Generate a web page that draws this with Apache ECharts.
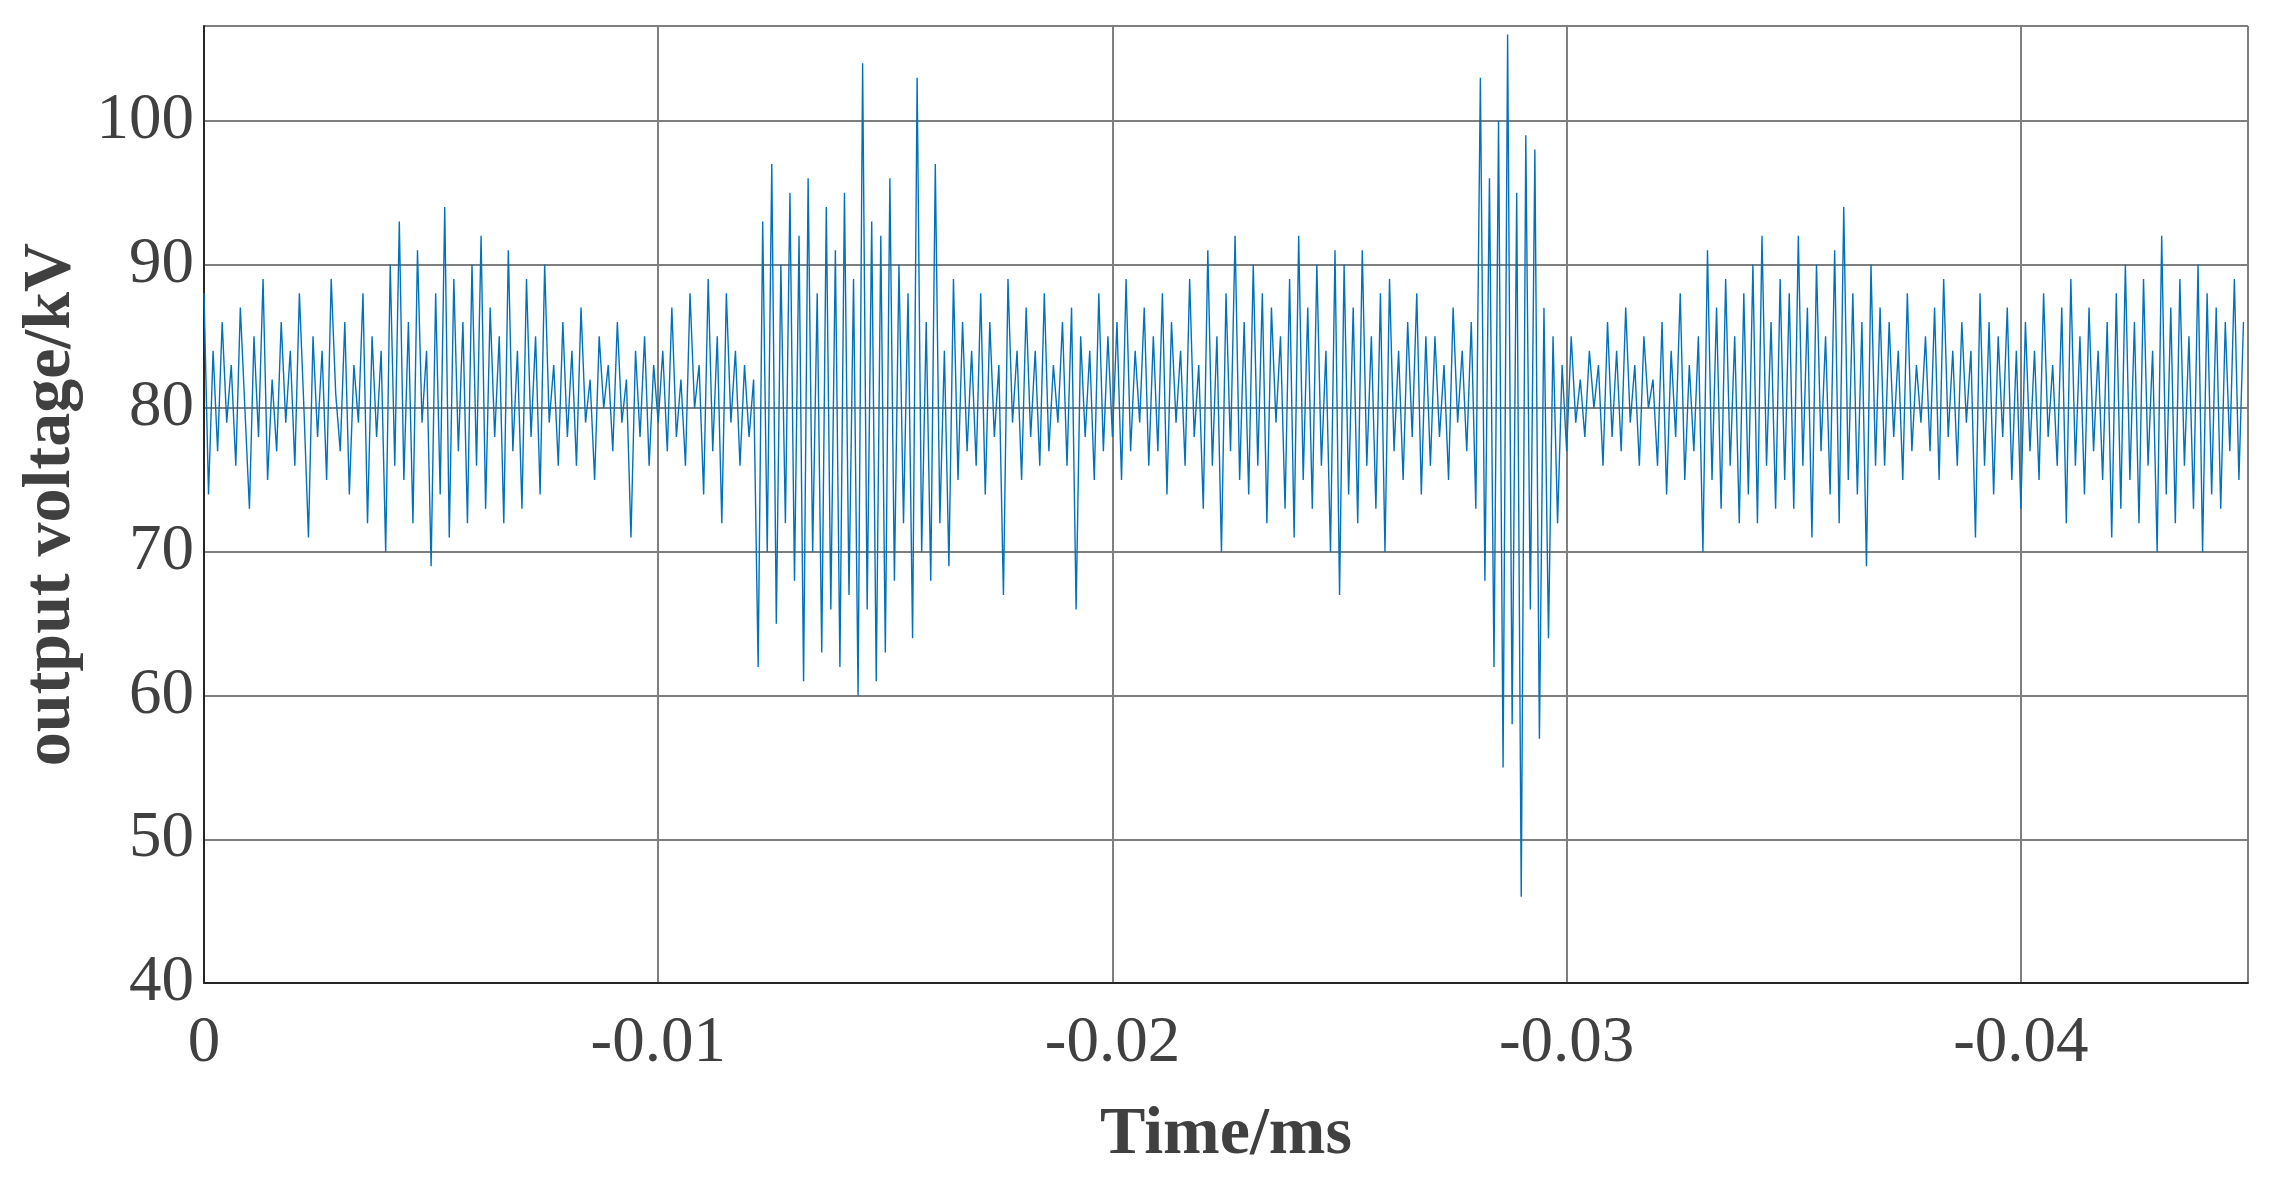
<!DOCTYPE html>
<html>
<head>
<meta charset="utf-8">
<script src="https://cdn.jsdelivr.net/npm/echarts@6/dist/echarts.min.js"></script>
<style>html,body{margin:0;padding:0;background:#fff}#chart{width:2272px;height:1198px}</style>
</head>
<body>
<div id="chart"></div>
<script>
// sampled time step (ms), shown on axis as negative values
var timeStep = 0.0001;
// output voltage samples in kV in 0.001 ms groups
var voltage = [
    88,74,84,77,86,79,83,76,87,80, 73,85,78,89,75,82,77,86,79,84,
    76,88,80,71,85,78,84,75,89,81, 77,86,74,83,79,88,72,85,78,84,
    70,90,76,93,75,86,72,91,79,84, 69,88,74,94,71,89,77,86,72,90,
    76,92,73,87,78,85,72,91,77,84, 73,89,78,85,74,90,79,83,76,86,
    78,84,76,87,79,82,75,85,80,83, 77,86,79,82,71,84,78,85,76,83,
    79,84,77,87,78,82,76,88,80,83, 74,89,77,85,72,88,79,84,76,83,
    78,82,62,93,70,97,65,90,72,95, 68,92,61,96,70,88,63,94,66,91,
    62,95,67,89,60,104,66,93,61,92, 63,96,68,90,72,88,64,103,70,86,
    68,97,72,84,69,89,75,86,77,84, 76,88,74,86,78,83,67,89,79,84,
    75,87,78,84,76,88,77,83,79,86, 76,87,66,85,78,84,75,88,77,85,
    78,86,75,89,77,84,79,87,76,85, 77,88,74,86,79,84,76,89,78,83,
    73,91,76,85,70,88,77,92,75,86, 74,90,76,88,72,87,79,85,73,89,
    71,92,75,87,73,90,76,84,70,91, 67,90,74,87,72,91,76,85,73,88,
    70,89,77,84,75,86,78,88,74,85, 76,85,78,83,75,87,79,84,77,86,
    73,103,68,96,62,100,55,106,58,95, 46,99,66,98,57,87,64,85,72,83,
    77,85,79,82,78,84,80,83,76,86, 78,84,77,87,79,83,76,85,80,82,
    76,86,74,84,78,88,75,83,77,85, 70,91,75,87,73,89,76,85,72,88,
    74,90,72,92,76,86,73,89,75,88, 73,92,76,87,71,90,77,85,74,91,
    72,94,75,88,74,86,69,90,76,87, 76,86,78,84,75,88,77,83,79,85,
    77,87,75,89,78,84,76,86,79,84, 71,88,76,86,74,85,78,87,75,84,
    73,86,77,84,75,88,78,83,76,87, 72,89,76,85,74,87,77,84,75,86,
    71,88,73,90,75,86,72,89,76,84, 70,92,74,87,72,89,76,85,73,90,
    70,88,74,87,73,86,77,89,75,86
];
var xTitle = 'Time/ms';
var yTitle = 'output voltage/kV';

var points = voltage.map(function (v, i) { return [i * timeStep, v]; });
var textColor = '#404040';
var font = 'Liberation Serif';

var chart = echarts.init(document.getElementById('chart'));
chart.setOption({
    animation: false,
    grid: {left: 204, right: 24, top: 26, bottom: 215, containLabel: false},
    xAxis: {
        type: 'value', min: 0, max: 0.045, interval: 0.01,
        name: xTitle, nameLocation: 'middle', nameGap: 118,
        nameTextStyle: {fontFamily: font, fontSize: 68, fontWeight: 'bold', color: textColor},
        axisLine: {lineStyle: {color: '#262626', width: 2}},
        axisTick: {show: false},
        axisLabel: {
            showMaxLabel: false, margin: 28,
            fontFamily: font, fontSize: 65, color: textColor,
            formatter: function (v) { return v === 0 ? '0' : '-' + +v.toFixed(2); }
        },
        splitLine: {show: true, lineStyle: {color: '#7f7f7f', width: 2}}
    },
    yAxis: {
        type: 'value', min: 40, max: 106.6, interval: 10,
        name: yTitle, nameLocation: 'middle', nameGap: 118,
        nameTextStyle: {fontFamily: font, fontSize: 68, fontWeight: 'bold', color: textColor},
        axisLine: {show: true, lineStyle: {color: '#262626', width: 2}},
        axisTick: {show: false},
        axisLabel: {
            showMaxLabel: false, margin: 10,
            fontFamily: font, fontSize: 65, color: textColor
        },
        splitLine: {show: true, lineStyle: {color: '#7f7f7f', width: 2}}
    },
    series: [{
        type: 'line', data: points, symbol: 'none',
        lineStyle: {color: '#0072BD', width: 1.4}
    }]
});
</script>
</body>
</html>
